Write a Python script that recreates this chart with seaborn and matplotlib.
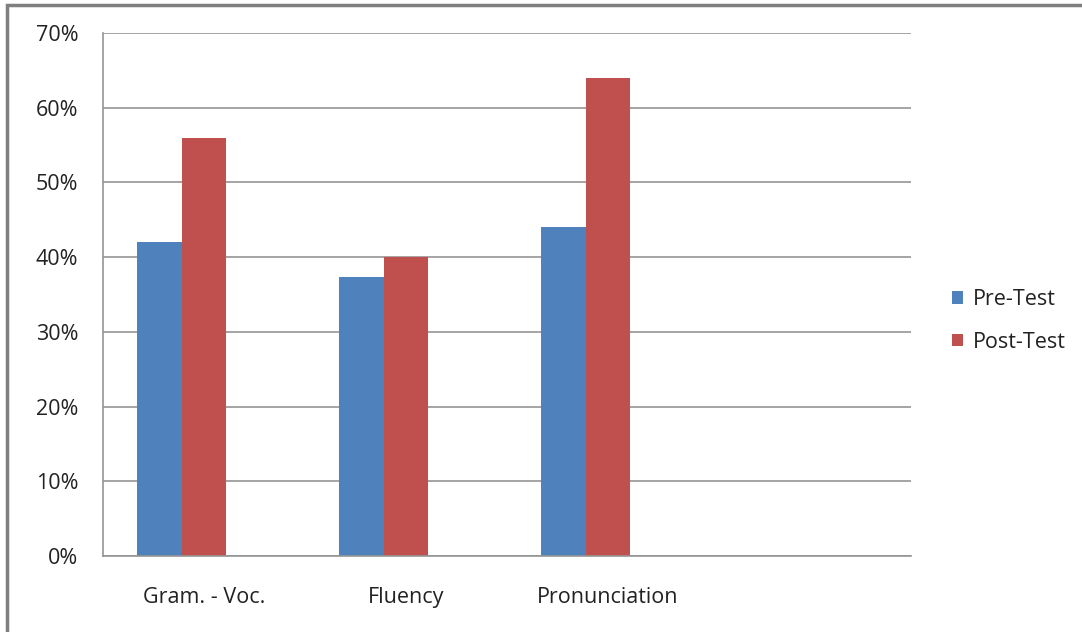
import matplotlib
matplotlib.use("Agg")
import matplotlib.pyplot as plt
import matplotlib.patches as mpatches
from matplotlib.ticker import PercentFormatter, FixedLocator
import seaborn as sns
import pandas as pd

categories = ["Gram. - Voc.", "Fluency", "Pronunciation"]
slots = categories + [" "]
pre_test = [42, 37.3, 44]
post_test = [56, 40, 64]
series = ["Pre-Test", "Post-Test"]
colors = ["#4F81BD", "#C0504D"]
y_ticks = [0, 10, 20, 30, 40, 50, 60, 70]

df = pd.DataFrame({
    "category": categories * 2,
    "value": pre_test + post_test,
    "series": [series[0]] * len(categories) + [series[1]] * len(categories),
})

sns.set_style("white")
plt.rcParams["font.family"] = ["Open Sans", "DejaVu Sans"]

FS = 15.5
W, H = 1082, 632
fig = plt.figure(figsize=(W / 100, H / 100), dpi=100)
ax = fig.add_axes([103 / W, 1 - 556 / H, (911 - 103) / W, (556 - 33) / H])

# a third, empty series slot keeps room in each group beside the two bars
blank = "(blank)"
palette = dict(zip(series, colors))
palette[blank] = "#FFFFFF"
sns.barplot(data=df, x="category", y="value", hue="series", order=slots,
            hue_order=series + [blank], palette=palette, width=0.668, gap=0,
            saturation=1, ax=ax, legend=False, linewidth=0)

grid_color = "#959595"
ax.set_ylim(0, 70)
ax.set_xlim(-0.5, len(slots) - 0.5)
ax.yaxis.set_major_locator(FixedLocator(y_ticks))
ax.yaxis.set_major_formatter(PercentFormatter(decimals=0))
ax.yaxis.grid(True, color=grid_color, linewidth=1.2)
ax.set_axisbelow(True)
ax.set_xlabel("")
ax.set_ylabel("")

for side in ["top", "right"]:
    ax.spines[side].set_visible(False)
for side in ["left", "bottom"]:
    ax.spines[side].set_color(grid_color)
    ax.spines[side].set_linewidth(1.2)

ax.tick_params(axis="y", direction="out", length=5.8, width=1.2, color=grid_color,
               labelsize=FS, labelcolor="#222222", pad=12)
ax.set_xticks(range(len(slots)))
ax.set_xticklabels(slots)
ax.tick_params(axis="x", which="major", length=0, labelsize=FS,
               labelcolor="#222222", pad=22)
ax.set_xticks([i - 0.5 for i in range(len(slots) + 1)], minor=True)
ax.tick_params(axis="x", which="minor", direction="out", length=5, width=1.2,
               color=grid_color)

handles = [mpatches.Patch(facecolor=c, edgecolor="none", label=s)
           for c, s in zip(colors, series)]
fig.legend(handles=handles, loc="center left", bbox_to_anchor=(952 / W, 1 - 321 / H),
           frameon=False, fontsize=FS, handlelength=0.52, handleheight=0.52,
           handletextpad=0.45, labelspacing=1.0, borderpad=0, borderaxespad=0,
           labelcolor="#222222")

# chart area border
fig.patches.append(mpatches.Rectangle((7 / W, -0.05), 1.1, 1 - 5 / H + 0.05,
                                      transform=fig.transFigure, fill=False,
                                      edgecolor="#7F7F7F", linewidth=2.5))

fig.savefig("out.png", dpi=100, facecolor="white")
